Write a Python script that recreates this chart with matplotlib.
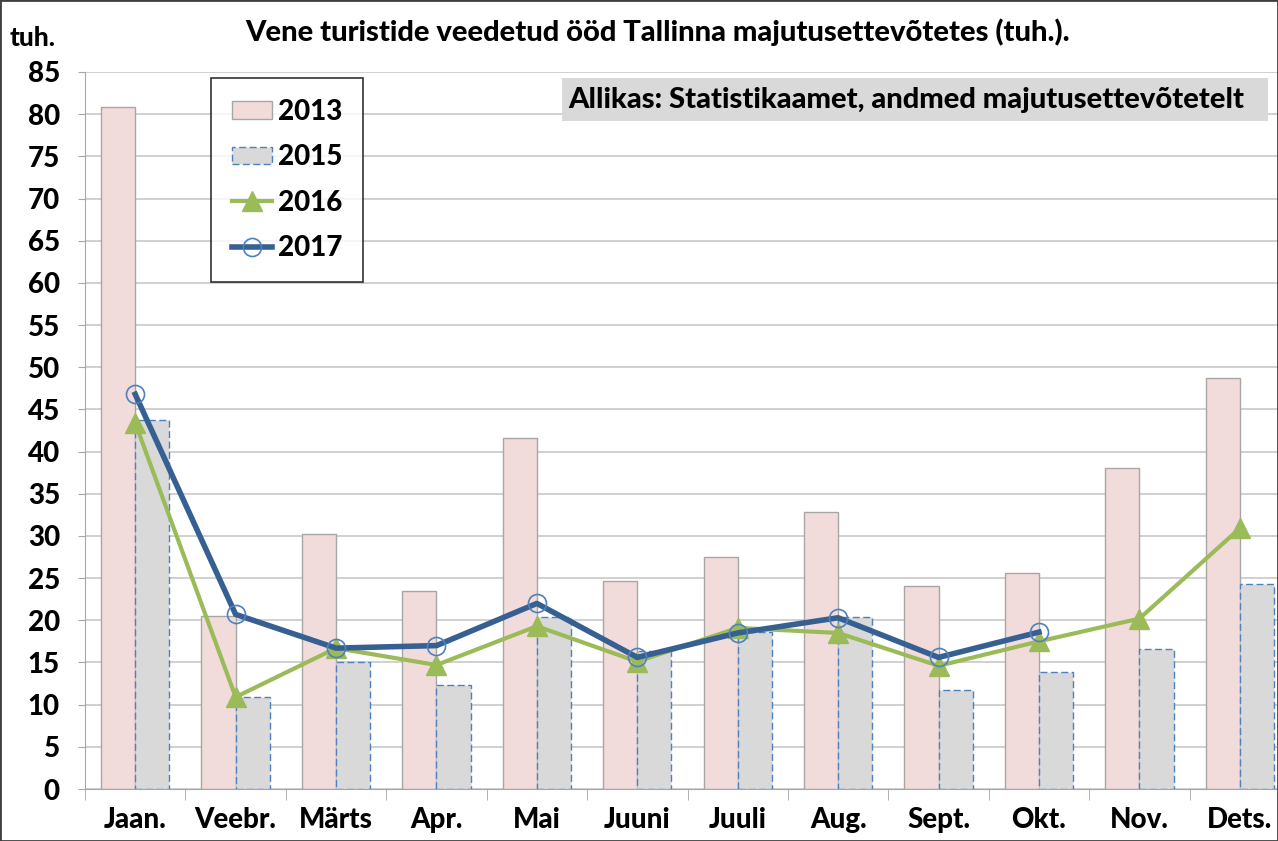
import numpy as np
import matplotlib
matplotlib.use("Agg")
import matplotlib.pyplot as plt
from matplotlib.patches import Rectangle

months = ["Jaan.", "Veebr.", "Märts", "Apr.", "Mai", "Juuni",
          "Juuli", "Aug.", "Sept.", "Okt.", "Nov.", "Dets."]
y2013 = [80.9, 20.5, 30.2, 23.5, 41.6, 24.6, 27.5, 32.8, 24.1, 25.6, 38.0, 48.7]
y2015 = [43.8, 10.9, 15.1, 12.3, 20.4, 16.4, 18.6, 20.4, 11.7, 13.9, 16.6, 24.3]
y2016 = [43.4, 10.9, 16.7, 14.7, 19.3, 15.1, 19.1, 18.5, 14.6, 17.5, 20.2, 30.9]
y2017 = [46.8, 20.7, 16.7, 17.0, 22.0, 15.6, 18.5, 20.3, 15.6, 18.6]

plt.rcParams['font.family'] = ['Lato', 'DejaVu Sans']
plt.rcParams['font.weight'] = 'black'

fig = plt.figure(figsize=(12.78, 8.41), dpi=100)
ax = fig.add_axes([85 / 1278, 1 - 789 / 841, 1205 / 1278, (789 - 72) / 841])

x = np.arange(len(months))
w = 0.34
b13 = ax.bar(x - w / 2, y2013, w, color="#f2dcdb", edgecolor="#a6a6a6", linewidth=1,
             label="2013", zorder=2)
b15 = ax.bar(x + w / 2, y2015, w, color="#d9d9d9", edgecolor="#4f81bd", linewidth=1,
             linestyle=(0, (5, 2.5)), label="2015", zorder=2)
l16, = ax.plot(x, y2016, color="#9bbb59", linewidth=3, marker="^", markersize=14,
               label="2016", zorder=3)
l17, = ax.plot(x[:len(y2017)], y2017, color="#376092", linewidth=4, marker="o",
               markersize=13, markerfacecolor="none", markeredgecolor="#4f81bd",
               markeredgewidth=1.2, label="2017", zorder=4)

ax.set_xlim(-0.5, 11.5)
ax.set_ylim(0, 85)
ax.set_yticks(range(0, 86, 5))
ax.set_xticks(x)
ax.set_xticklabels(months)
ax.set_xticks(np.arange(-0.5, 12, 1), minor=True)
ax.tick_params(axis="x", which="major", length=0, pad=13, labelsize=20)
ax.tick_params(axis="x", which="minor", length=8, color="#a6a6a6")
ax.tick_params(axis="y", length=5, color="#a6a6a6", labelsize=20, pad=13)
ax.grid(axis="y", color="#c8c8c8", linewidth=1.2, zorder=0)
ax.set_axisbelow(True)
for s in ["top", "right"]:
    ax.spines[s].set_visible(False)
ax.spines["left"].set_color("#a6a6a6")
ax.spines["bottom"].set_color("#a6a6a6")

leg = ax.legend([b13, b15, l16, l17], ["2013", "2015", "2016", "2017"],
                loc="upper left", bbox_to_anchor=((211 - 85) / 1205, 1 - (78 - 72) / 717),
                fontsize=20, frameon=True, fancybox=False, edgecolor="black",
                handlelength=1.45, handleheight=0.6, labelspacing=0.7, borderpad=0.75,
                handletextpad=0.2, borderaxespad=0)
leg.get_frame().set_linewidth(1.2)

fig.text(658 / 1278, 1 - 32 / 841, "Vene turistide veedetud ööd Tallinna majutusettevõtetes (tuh.).",
         ha="center", va="center", fontsize=21)
fig.text(10 / 1278, 1 - 38 / 841, "tuh.", ha="left", va="center", fontsize=19)
fig.patches.append(Rectangle((562 / 1278, 1 - 121 / 841), (1268 - 562) / 1278, 43 / 841,
                             transform=fig.transFigure, facecolor="#d9d9d9", edgecolor="none"))
fig.text(568 / 1278, 1 - 100 / 841, "Allikas: Statistikaamet, andmed majutusettevõtetelt",
         ha="left", va="center", fontsize=21)
fig.patches.append(Rectangle((0, 0), 1, 1, transform=fig.transFigure, facecolor="none",
                             edgecolor="#404040", linewidth=2))

fig.savefig("out.png", dpi=100)
